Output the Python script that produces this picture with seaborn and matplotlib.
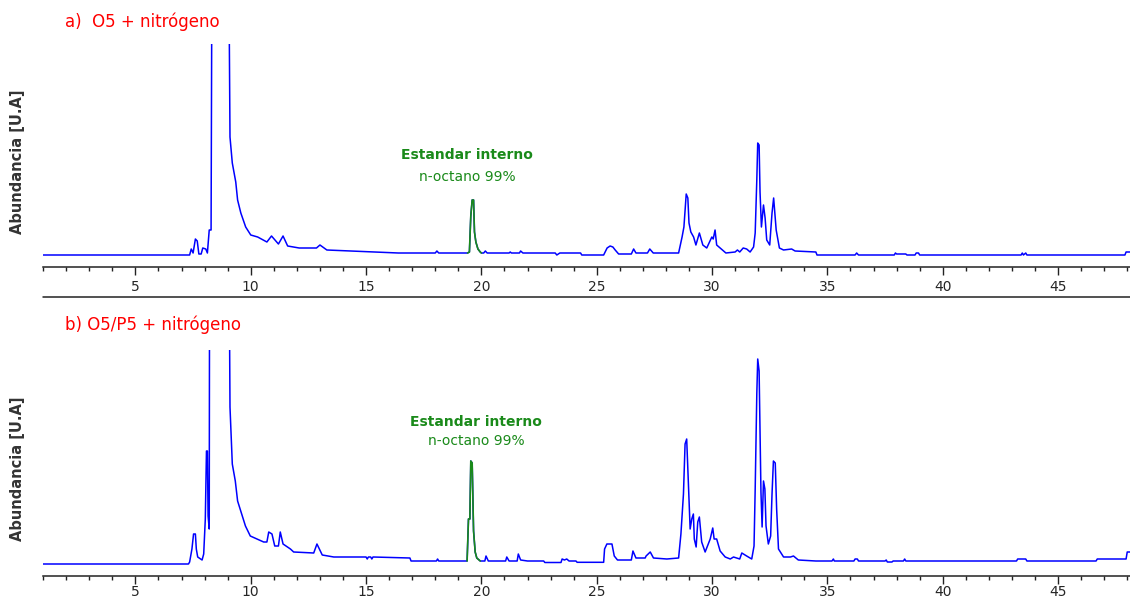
import matplotlib
matplotlib.use("Agg")
import matplotlib.pyplot as plt
from matplotlib.ticker import MultipleLocator
from matplotlib.lines import Line2D
import numpy as np
import pandas as pd
import seaborn as sns

# ---------------- data ----------------
time_a = [1.0, 7.35, 7.42, 7.5, 7.6, 7.68, 7.75, 7.85, 7.92, 8.05, 8.12, 8.2, 8.28, 8.33,
          9.02, 9.1, 9.2, 9.35, 9.43, 9.57, 9.78, 10.0, 10.3, 10.7, 10.9, 11.2, 11.4, 11.6,
          12.1, 12.85, 13.0, 13.3, 14.3, 16.4, 18.0, 18.07, 18.15, 19.4, 19.48, 19.54, 19.6,
          19.66, 19.7, 19.76, 19.85, 19.95, 20.0, 20.1, 20.17, 20.25, 21.2, 21.25, 21.3, 21.65,
          21.7, 21.8, 23.2, 23.27, 23.4, 24.3, 24.35, 25.3, 25.45, 25.58, 25.7, 25.8, 25.95,
          26.5, 26.6, 26.7, 27.2, 27.3, 27.45, 28.55, 28.7, 28.78, 28.88, 28.95, 29.0, 29.08,
          29.2, 29.3, 29.45, 29.6, 29.77, 29.99, 30.05, 30.13, 30.2, 30.4, 30.6, 31.0, 31.1,
          31.2, 31.35, 31.5, 31.65, 31.8, 31.87, 31.94, 31.98, 32.04, 32.08, 32.14, 32.23,
          32.3, 32.37, 32.5, 32.6, 32.67, 32.78, 32.92, 33.1, 33.45, 33.6, 34.5, 34.55, 36.2,
          36.27, 36.35, 37.9, 37.95, 38.0, 38.4, 38.45, 38.8, 38.85, 38.95, 39.0, 43.4, 43.45,
          43.5, 43.6, 43.65, 47.9, 47.95, 48.2]
abund_a = [12, 12, 18, 14, 28, 26, 13, 13, 19, 18, 14, 37, 37, 400,
           400, 130, 104, 85, 67, 54, 40, 32, 30, 25, 31, 23, 31, 21,
           19, 19, 22, 17, 16, 14, 14, 16, 14, 14, 15, 51, 67,
           67, 35, 25, 18, 15, 14, 14, 16, 14, 14, 15, 14, 14,
           16, 14, 14, 12, 14, 14, 12, 12, 19, 21, 20, 17, 13,
           13, 18, 14, 14, 18, 14, 14, 30, 40, 73, 69, 44, 35,
           30, 22, 34, 22, 19, 30, 28, 37, 22, 18, 14, 15, 17,
           15, 19, 18, 15, 20, 34, 87, 124, 122, 75, 40, 62,
           49, 27, 22, 54, 69, 37, 19, 17, 18, 16, 15, 12, 12,
           14, 12, 12, 14, 13, 13, 12, 12, 14, 14, 12, 12, 14,
           12, 14, 12, 12, 15, 15]

time_b = [1.0, 7.3, 7.35, 7.45, 7.52, 7.6, 7.64, 7.7, 7.89, 7.96, 8.03, 8.08, 8.12, 8.15,
          8.2, 8.22, 9.04, 9.1, 9.2, 9.33, 9.43, 9.58, 9.77, 9.98, 10.27, 10.56, 10.7, 10.78,
          10.92, 11.04, 11.2, 11.28, 11.4, 11.72, 11.86, 12.73, 12.87, 13.1, 13.6, 15.0, 15.05,
          15.1, 15.2, 15.25, 15.3, 16.9, 16.95, 18.05, 18.1, 18.15, 19.38, 19.44, 19.5, 19.54,
          19.6, 19.66, 19.73, 19.8, 19.95, 20.15, 20.2, 20.3, 21.05, 21.1, 21.2, 21.55, 21.6,
          21.7, 22.0, 22.7, 22.75, 23.45, 23.5, 23.6, 23.7, 23.8, 24.1, 24.15, 25.3, 25.34,
          25.44, 25.66, 25.76, 25.9, 26.5, 26.57, 26.7, 27.1, 27.14, 27.32, 27.46, 28.04,
          28.55, 28.65, 28.76, 28.83, 28.9, 28.97, 29.05, 29.12, 29.19, 29.23, 29.31, 29.38,
          29.45, 29.55, 29.7, 29.92, 30.03, 30.09, 30.2, 30.35, 30.57, 30.79, 30.93, 31.2,
          31.29, 31.5, 31.72, 31.82, 31.87, 31.94, 31.98, 32.04, 32.08, 32.12, 32.17, 32.23,
          32.29, 32.34, 32.44, 32.54, 32.6, 32.66, 32.74, 32.8, 32.88, 33.1, 33.4, 33.53,
          33.74, 34.5, 35.2, 35.26, 35.3, 36.15, 36.2, 36.3, 36.35, 37.5, 37.55, 37.6, 37.8,
          37.85, 38.3, 38.35, 38.4, 43.2, 43.25, 43.6, 43.65, 46.65, 46.7, 47.95, 48.0, 48.2]
abund_b = [12, 12, 14, 27, 42, 42, 27, 19, 16, 22, 57, 125, 125, 60,
           47, 400, 400, 169, 112, 95, 75, 64, 50, 40, 37, 34, 34, 44,
           42, 30, 30, 44, 32, 27, 24, 23, 32, 21, 19, 19, 17,
           19, 19, 17, 19, 18, 15, 15, 17, 15, 15, 57, 57, 115,
           113, 45, 24, 18, 15, 15, 20, 15, 15, 19, 15, 15, 22,
           16, 15, 15, 13.5, 13.5, 17, 16, 17, 15, 15, 13.7, 13.7, 27,
           32, 32, 20, 16, 16, 25, 18, 18, 20, 24, 18, 17,
           18, 42, 82, 132, 137, 95, 47, 57, 62, 37, 29, 54,
           59, 34, 24, 37, 48, 37, 37, 25, 19, 17, 19, 17,
           23, 20, 17, 30, 87, 182, 217, 205, 144, 84, 49, 95,
           87, 50, 32, 40, 82, 115, 113, 67, 27, 19, 19, 20,
           16, 15, 15, 17, 15, 15, 17, 17, 15, 15, 16, 14, 14,
           15, 15, 17, 15, 15, 17, 17, 15, 15, 17, 17, 24, 24]

standard_window = (19.38, 20.0)
panel_titles = ["a)  O5 + nitrógeno", "b) O5/P5 + nitrógeno"]
ylabel = "Abundancia [U.A]"
std_title = "Estandar interno"
std_sub = "n-octano 99%"
major_ticks = [5, 10, 15, 20, 25, 30, 35, 40, 45]

# ---------------- figure ----------------
sns.set_style("white")
plt.rcParams["font.family"] = ["DejaVu Sans"]

W, H = 1130, 601
fig = plt.figure(figsize=(W / 100, H / 100), dpi=100)

def fx(px):
    return px / W

def fy(py):
    return 1 - py / H

x0 = 42.7
panels = [
    dict(top=44, bottom=267, t=time_a, v=abund_a, ylim=(0, 223), title_y=22,
         std_x=19.39, std_y=(112, 90), pad=3.5),
    dict(top=350, bottom=576, t=time_b, v=abund_b, ylim=(0, 226), title_y=325,
         std_x=19.78, std_y=(154, 135), pad=0.8),
]

blue = "#0000FF"
green = "#1A8A1A"
axis_col = "#222222"

for i, p in enumerate(panels):
    ax = fig.add_axes([fx(x0), fy(p["bottom"]), fx(W - x0), (p["bottom"] - p["top"]) / H])
    df = pd.DataFrame({"t": p["t"], "v": p["v"]})
    sns.lineplot(data=df, x="t", y="v", ax=ax, color=blue, linewidth=1.1,
                 sort=False, estimator=None)
    m = (df["t"] >= standard_window[0]) & (df["t"] <= standard_window[1])
    sns.lineplot(data=df[m], x="t", y="v", ax=ax, color=green, linewidth=1.2,
                 sort=False, estimator=None)
    ax.set_xlim(0.98, 48.12)
    ax.set_ylim(*p["ylim"])
    for s in ["left", "top", "right"]:
        ax.spines[s].set_visible(False)
    ax.spines["bottom"].set_color(axis_col)
    ax.spines["bottom"].set_linewidth(1.1)
    ax.set_yticks([])
    ax.set_xlabel("")
    ax.set_ylabel("")
    ax.xaxis.set_minor_locator(MultipleLocator(1))
    ax.set_xticks(major_ticks)
    ax.set_xticklabels([str(t) for t in major_ticks])
    ax.tick_params(axis="x", which="major", direction="out", length=5.5, width=1.0,
                   color=axis_col, labelsize=10, pad=p["pad"], bottom=True)
    ax.tick_params(axis="x", which="minor", direction="out", length=2.8, width=1.0,
                   color=axis_col, bottom=True)
    ax.set_facecolor("none")

    ax.text(p["std_x"], p["std_y"][0], std_title, color=green, fontsize=10,
            fontweight="bold", ha="center", va="center")
    ax.text(p["std_x"], p["std_y"][1], std_sub, color=green, fontsize=10,
            ha="center", va="center")

    fig.text(fx(65), fy(p["title_y"]), panel_titles[i], color="red", fontsize=12,
             ha="left", va="center")
    fig.text(fx(18), fy((p["top"] + p["bottom"]) / 2 + 6), ylabel, color="#333333",
             fontsize=10.5, fontweight="bold", rotation=90, ha="center", va="center")

# lower border line under the first axis labels
fig.add_artist(Line2D([fx(x0), 1.0], [fy(297), fy(297)], transform=fig.transFigure,
                      color=axis_col, linewidth=1.1))

fig.savefig("out.png", dpi=100, facecolor="white")
